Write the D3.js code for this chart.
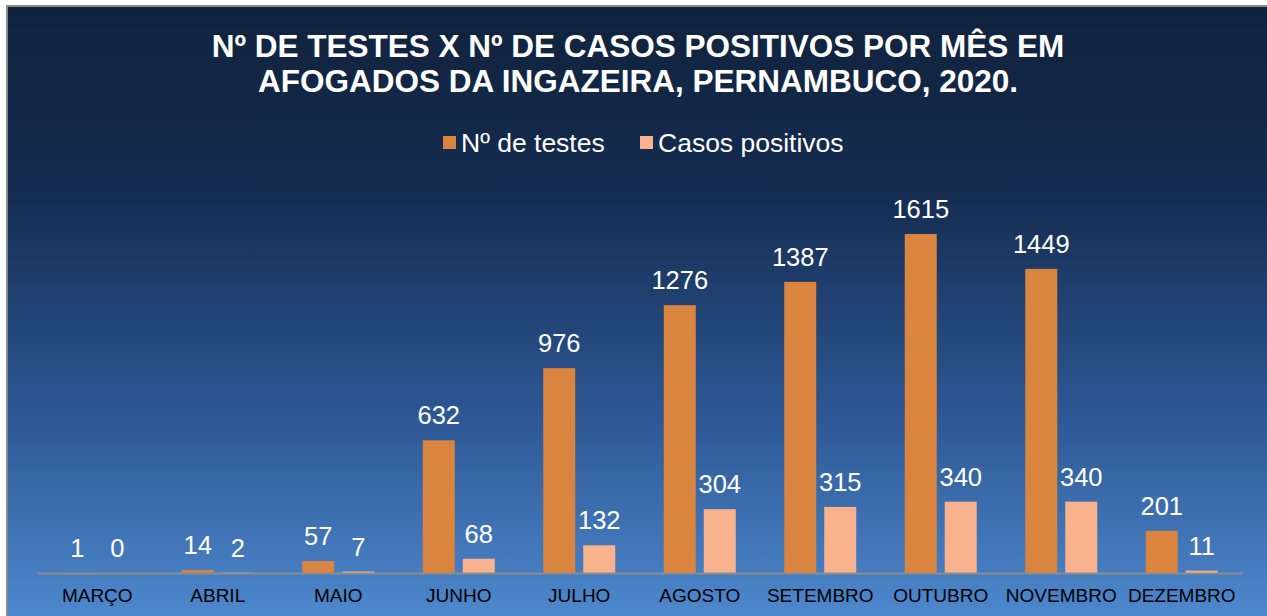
<!DOCTYPE html>
<html>
<head>
<meta charset="utf-8">
<script src="https://cdn.jsdelivr.net/npm/d3@7"></script>
<style>
  body { margin: 0; background: #fff; }
  svg { display: block; font-family: "Liberation Sans", Arial, sans-serif; }
</style>
</head>
<body>
<svg id="chart" width="1267" height="616"></svg>
<script>
var meses = ["MARÇO", "ABRIL", "MAIO", "JUNHO", "JULHO", "AGOSTO", "SETEMBRO", "OUTUBRO", "NOVEMBRO", "DEZEMBRO"];
var testes = [1, 14, 57, 632, 976, 1276, 1387, 1615, 1449, 201];
var positivos = [0, 2, 7, 68, 132, 304, 315, 340, 340, 11];
var series = ["Nº de testes", "Casos positivos"];
var cores = ["#d9843f", "#f8b38e"];

var svg = d3.select("#chart");

// fundo em degrade
var grad = svg.append("defs").append("linearGradient")
    .attr("id", "bg").attr("x1", 0).attr("y1", 0).attr("x2", 0).attr("y2", 1);
grad.append("stop").attr("offset", "0%").attr("stop-color", "#10233d");
grad.append("stop").attr("offset", "30%").attr("stop-color", "#152c50");
grad.append("stop").attr("offset", "65%").attr("stop-color", "#2c5692");
grad.append("stop").attr("offset", "100%").attr("stop-color", "#4f8ad0");

svg.append("rect")
    .attr("x", 7).attr("y", 6).attr("width", 1270).attr("height", 620)
    .attr("fill", "url(#bg)")
    .attr("stroke", "#8a8a8a").attr("stroke-width", 2);

// titulo
var titulo = svg.append("text")
    .attr("text-anchor", "middle")
    .attr("fill", "#fff").style("font-size", "31.5px").style("font-weight", "bold");
titulo.append("tspan").attr("x", 638).attr("y", 57)
    .text("Nº DE TESTES X Nº DE CASOS POSITIVOS POR MÊS EM");
titulo.append("tspan").attr("x", 638).attr("y", 92)
    .text("AFOGADOS DA INGAZEIRA, PERNAMBUCO, 2020.");

// legenda
var legX = [443, 640];
series.forEach(function(s, i) {
    svg.append("rect").attr("x", legX[i]).attr("y", 136)
        .attr("width", 13).attr("height", 13).attr("fill", cores[i]);
    svg.append("text").attr("x", legX[i] + 18).attr("y", 152)
        .attr("fill", "#fff").style("font-size", "26.5px").text(s);
});

var x = d3.scaleBand().domain(meses).range([37, 1242]);
var base = 573;
var y = d3.scaleLinear().domain([0, 1615]).range([base, 234]);
var bw = 32, gap = 8;

var grupos = [testes, positivos];
grupos.forEach(function(vals, k) {
    var off = k === 0 ? -gap / 2 - bw : gap / 2;
    svg.append("g").selectAll("rect").data(vals).join("rect")
        .attr("x", function(d, i) { return x(meses[i]) + x.bandwidth() / 2 + off; })
        .attr("y", function(d) { return y(d); })
        .attr("width", bw)
        .attr("height", function(d) { return base - y(d); })
        .attr("fill", cores[k]);
    svg.append("g").selectAll("text").data(vals).join("text")
        .attr("x", function(d, i) { return x(meses[i]) + x.bandwidth() / 2 + off + bw / 2; })
        .attr("y", function(d) { return y(d) - 16; })
        .attr("text-anchor", "middle")
        .attr("fill", "#fff").style("font-size", "25.5px")
        .text(function(d) { return d; });
});

// eixo x
var eixo = svg.append("g")
    .attr("transform", "translate(0," + base + ")")
    .call(d3.axisBottom(x).tickSize(0).tickPadding(16));
eixo.select(".domain").attr("stroke", "#8c8c8c").attr("stroke-width", 2);
eixo.selectAll("text").attr("fill", "#000").style("font-size", "19px")
    .style("font-family", "Liberation Sans, Arial, sans-serif");
</script>
</body>
</html>
